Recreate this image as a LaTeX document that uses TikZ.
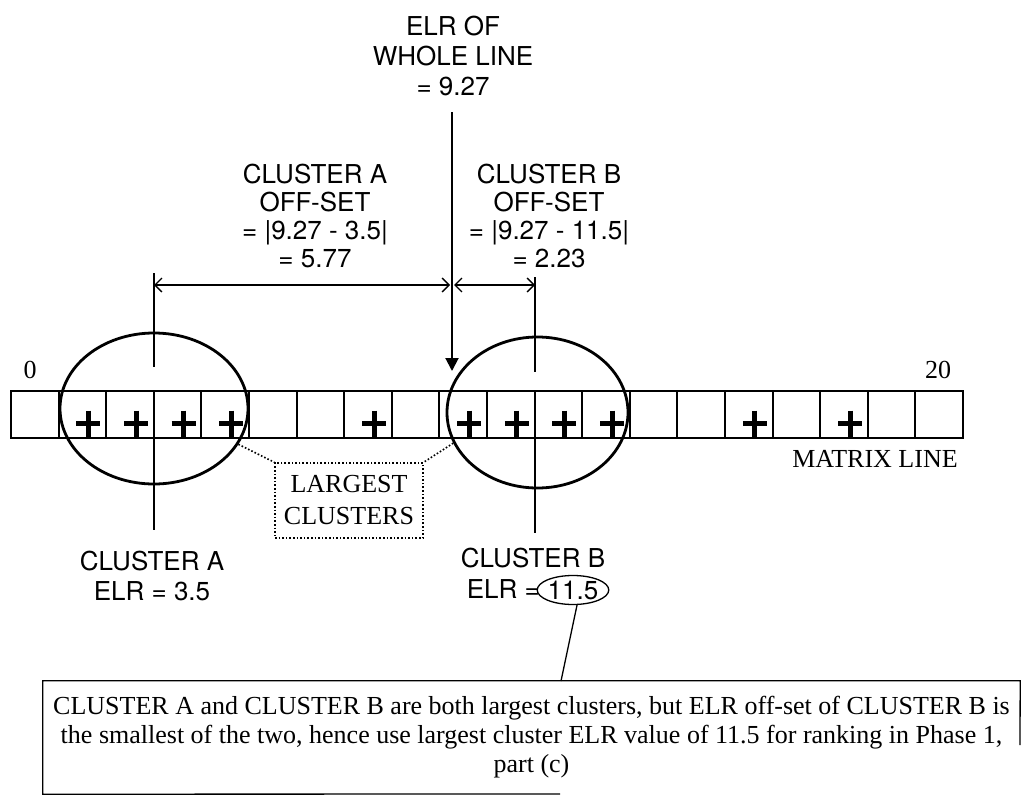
\documentclass[tikz,border=0pt]{standalone}
\usepackage{fontspec}
\setmainfont{Liberation Serif}
\newfontfamily\hv{TeX Gyre Heros}
\usetikzlibrary{arrows.meta,shapes.geometric}
\begin{document}
\begin{tikzpicture}[x=1pt,y=-1pt,
  sans/.style={font=\hv\fontsize{26}{29}\selectfont, inner sep=0pt, anchor=base},
  serif/.style={font=\fontsize{26}{29}\selectfont, inner sep=0pt, anchor=base},
  cell/.style={draw, line width=2pt, minimum width=47.6pt, minimum height=47pt, inner sep=0pt},
  bigell/.style={draw, ellipse, line width=2.8pt, inner sep=0pt},
  dim/.style={line width=1.3pt, {Straight Barb[length=7pt,width=14pt]}-{Straight Barb[length=7pt,width=14pt]}},
  thinline/.style={line width=1.3pt},
  plusbar/.style={line width=5pt},
  dotline/.style={dotted, line width=1.6pt}]
\useasboundingbox (0,0) rectangle (1023,795);

% matrix line
\foreach \i in {0,...,19} {
  \node[cell] (c\i) at ({34.8+47.6*\i}, 414.5) {};
}
\foreach \i in {1,2,3,4,7,9,10,11,12,15,17} {
  \pgfmathsetmacro\px{34.8+47.6*\i+6}
  \draw[plusbar] (\px-12,423) -- (\px+12,423);
  \draw[plusbar] (\px,410.5) -- (\px,437.5);
}
\node[serif] (zero) at (30,378) {0};
\node[serif] (twenty) at (938,378) {20};
\node[serif] (ml) at (875,467) {MATRIX LINE};

% cluster ellipses
\node[bigell, minimum width=188pt, minimum height=151pt] (ea) at (154,408.5) {};
\node[bigell, minimum width=181pt, minimum height=151pt] (eb) at (537.5,412.5) {};

% ELR of whole line
\node[sans] (t1) at (453,35) {ELR OF};
\node[sans] (t2) at (453,65) {WHOLE LINE};
\node[sans] (t3) at (453,95) {= 9.27};
\coordinate (elrtop) at (452,112);
\coordinate (elrtip) at (452,371);
\draw[line width=2pt, -{Triangle[length=13pt,width=13pt]}] (elrtop) -- (elrtip);

% cluster centre lines
\coordinate (a1) at (154,273); \coordinate (a2) at (154,367);
\coordinate (a3) at (154,438); \coordinate (a4) at (154,530);
\coordinate (b1) at (535,277); \coordinate (b2) at (535,372);
\coordinate (b3) at (535,438); \coordinate (b4) at (535,533);
\draw[thinline] (a1) -- (a2);
\draw[thinline] (a3) -- (a4);
\draw[thinline] (b1) -- (b2);
\draw[thinline] (b3) -- (b4);

% offset dimensions
\coordinate (dL) at (154,285);
\coordinate (dM) at (452,285);
\coordinate (dR) at (535,285);
\draw[dim, shorten >=2pt] (dL) -- (dM);
\draw[dim, shorten <=2pt] (dM) -- (dR);

\node[sans] (oa1) at (315,183) {CLUSTER A};
\node[sans] (oa2) at (315,211) {OFF-SET};
\node[sans] (oa3) at (315,239) {= |9.27 - 3.5|};
\node[sans] (oa4) at (315,267) {= 5.77};
\node[sans] (ob1) at (549,183) {CLUSTER B};
\node[sans] (ob2) at (549,211) {OFF-SET};
\node[sans] (ob3) at (549,239) {= |9.27 - 11.5|};
\node[sans] (ob4) at (549,267) {= 2.23};

% largest clusters
\node[draw, dotline, minimum width=148pt, minimum height=75pt, align=center,
  font=\fontsize{26}{32}\selectfont, inner sep=0pt] (lc) at (349,500.5) {LARGEST\\CLUSTERS};
\draw[dotline] (ea.-23) -- (lc.north west);
\draw[dotline] (eb.200) -- (lc.north east);

% cluster labels
\node[sans] (ca1) at (152,570) {CLUSTER A};
\node[sans] (ca2) at (152,600) {ELR = 3.5};
\node[sans] (cb1) at (533,567) {CLUSTER B};
\node[sans, anchor=base east] (cb2) at (540,598) {ELR =};
\node[draw, ellipse, thinline, minimum width=66pt, minimum height=29pt, inner sep=0pt,
  font=\hv\fontsize{26}{29}\selectfont] (v115) at (573,590) {11.5};

% note box (scan shows an incomplete frame)
\node[minimum width=977pt, minimum height=113pt,
  align=center, inner sep=0pt, font=\fontsize{26}{29}\selectfont] (tb) at (531.5,737.5)
  {CLUSTER A and CLUSTER B are both largest clusters, but ELR off-set of CLUSTER B is\\
   the smallest of the two, hence use largest cluster ELR value of 11.5 for ranking in Phase 1,\\
   part (c)};
\coordinate (tbb) at (560,794);
\coordinate (tbr) at (1020,745);
\draw[thinline] (tbb) -- (tb.south west) -- (tb.north west) -- (tb.north east) -- (tbr);
\coordinate (lead) at (561,681);
\draw[thinline] (v115.-75) -- (lead);
\end{tikzpicture}
\end{document}
